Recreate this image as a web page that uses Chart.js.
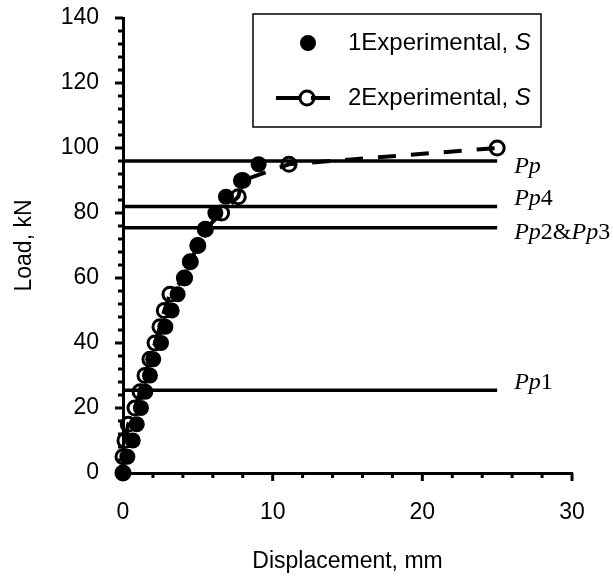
<!DOCTYPE html>
<html lang="en">
<head>
  <meta charset="UTF-8" />
  <title>Load - displacement</title>
  <script src="https://cdn.jsdelivr.net/npm/chart.js"></script>
<style>
  body {
    margin: 0;
    background-color: white;
  }
  #chart {
    display: block;
  }
</style>
</head>
<body>
  <canvas id="chart" width="613" height="576"></canvas>

  <script>
    // series 1 : filled circles
    const disp1 = [0, 0.29, 0.65, 0.92, 1.2, 1.49, 1.8, 2.02, 2.54, 2.83, 3.25, 3.65, 4.14, 4.48, 4.99, 5.48, 6.17, 6.88, 7.88, 9.06];
    const load1 = [0, 5, 10, 15, 20, 25, 30, 35, 40, 45, 50, 55, 60, 65, 70, 75, 80, 85, 90, 95];

    // series 2 : open circles, dashed line
    const disp2 = [0, 0, 0.13, 0.35, 0.8, 1.14, 1.47, 1.8, 2.14, 2.47, 2.76, 3.14, 4.1, 4.5, 5.0, 5.5, 6.59, 7.7, 8.0, 11.09, 25];
    const load2 = [0, 5, 10, 15, 20, 25, 30, 35, 40, 45, 50, 55, 60, 65, 70, 75, 80, 85, 90, 95, 100];

    // horizontal reference loads
    const refNames = ["Pp", "Pp4", "Pp2&Pp3", "Pp1"];
    const refLoads = [96, 82, 75.5, 25.5];
    const refFrom = 0;
    const refTo = 25;

    const seriesNames = ["1Experimental, ", "2Experimental, "];
    const xLabels = [0, 10, 20, 30];
    const yLabels = [0, 20, 40, 60, 80, 100, 120, 140];

    const sans = "'Liberation Sans', Arial, sans-serif";
    const serif = "'Liberation Serif', 'Times New Roman', serif";

    const toPts = (xs, ys) => xs.map((v, i) => ({ x: v, y: ys[i] }));

    const datasets = [
      {
        label: seriesNames[0],
        data: toPts(disp1, load1),
        showLine: false,
        pointRadius: 8,
        pointBackgroundColor: "#000",
        pointBorderColor: "#000",
        pointBorderWidth: 0,
        clip: false
      },
      {
        label: seriesNames[1],
        data: toPts(disp2, load2),
        showLine: true,
        borderColor: "#000",
        borderWidth: 4,
        borderDash: [18, 15],
        pointRadius: 7,
        pointBorderWidth: 3,
        pointBorderColor: "#000",
        pointBackgroundColor: "rgba(0,0,0,0)",
        clip: false
      }
    ];
    refLoads.forEach((v, i) => {
      datasets.push({
        label: refNames[i],
        data: [{ x: refFrom, y: v }, { x: refTo, y: v }],
        showLine: true,
        borderColor: "#000",
        borderWidth: 3.5,
        pointRadius: 0,
        clip: false
      });
    });

    // minor ticks, legend box and reference labels
    const decor = {
      id: "decor",
      afterDraw(chart) {
        const { ctx, chartArea: a, scales: { x, y } } = chart;
        ctx.save();
        ctx.strokeStyle = "#000";
        ctx.fillStyle = "#000";
        ctx.lineWidth = 3;

        for (let v = x.min; v <= x.max; v += 2) {
          const px = x.getPixelForValue(v);
          const len = v % 10 === 0 ? 8 : 5;
          ctx.beginPath();
          ctx.moveTo(px, a.bottom);
          ctx.lineTo(px, a.bottom + len);
          ctx.stroke();
        }
        for (let v = y.min; v <= y.max; v += 4) {
          const py = y.getPixelForValue(v);
          const len = v % 20 === 0 ? 8 : 5;
          ctx.beginPath();
          ctx.moveTo(a.left, py);
          ctx.lineTo(a.left - len, py);
          ctx.stroke();
        }

        // legend
        const lx = a.right - 319, ly = a.top - 4;
        ctx.lineWidth = 1.5;
        ctx.strokeRect(lx, ly, 288, 113);
        ctx.beginPath();
        ctx.arc(lx + 55, ly + 29, 8, 0, Math.PI * 2);
        ctx.fill();
        ctx.lineWidth = 4;
        ctx.beginPath();
        ctx.moveTo(lx + 23, ly + 84);
        ctx.lineTo(lx + 46, ly + 84);
        ctx.moveTo(lx + 58, ly + 84);
        ctx.lineTo(lx + 77, ly + 84);
        ctx.stroke();
        ctx.lineWidth = 3;
        ctx.beginPath();
        ctx.arc(lx + 54, ly + 84, 7, 0, Math.PI * 2);
        ctx.stroke();

        ctx.textBaseline = "middle";
        [ly + 29, ly + 84].forEach((ty, i) => {
          ctx.font = "24px " + sans;
          ctx.fillText(seriesNames[i], lx + 95, ty);
          const w = ctx.measureText(seriesNames[i]).width;
          ctx.font = "italic 24px " + sans;
          ctx.fillText("S", lx + 95 + w, ty);
        });

        // reference labels: letters italic, digits upright
        const shift = [6, -8, 5, -7];
        refNames.forEach((name, i) => {
          let tx = x.getPixelForValue(refTo) + 17;
          const ty = y.getPixelForValue(refLoads[i]) + shift[i];
          name.split(/([A-Za-z]+)/).filter(s => s).forEach(part => {
            ctx.font = (/[A-Za-z]/.test(part) ? "italic " : "") + "24px " + serif;
            ctx.fillText(part, tx, ty);
            tx += ctx.measureText(part).width;
          });
        });
        ctx.restore();
      }
    };

    const tickFont = { family: sans, size: 23 };

    new Chart(document.getElementById("chart"), {
      type: "scatter",
      data: { datasets: datasets },
      options: {
        responsive: false,
        animation: false,
        devicePixelRatio: 1,
        layout: { padding: { top: 18, right: 41, left: 0, bottom: 0 } },
        plugins: { legend: { display: false }, tooltip: { enabled: false } },
        scales: {
          x: {
            type: "linear",
            min: 0,
            max: 30,
            afterBuildTicks: s => { s.ticks = xLabels.map(v => ({ value: v })); },
            afterFit: s => { s.height = 103; s.paddingLeft = 0; s.paddingRight = 0; },
            ticks: { color: "#000", font: tickFont, padding: 26, maxRotation: 0, autoSkip: false },
            grid: { drawOnChartArea: false, drawTicks: false },
            border: { color: "#000", width: 3 },
            title: { display: true, text: "Displacement, mm", color: "#000", font: tickFont, padding: { top: 0, bottom: 1 } }
          },
          y: {
            type: "linear",
            min: 0,
            max: 140,
            afterBuildTicks: s => { s.ticks = yLabels.map(v => ({ value: v })); },
            afterFit: s => { s.width = 123; s.paddingTop = 0; s.paddingBottom = 0; },
            ticks: { color: "#000", font: tickFont, padding: 24, autoSkip: false },
            grid: { drawOnChartArea: false, drawTicks: false },
            border: { color: "#000", width: 3 },
            title: { display: true, text: "Load, kN", color: "#000", font: tickFont, padding: { top: 11, bottom: 0 } }
          }
        }
      },
      plugins: [decor]
    });
  </script>
</body>
</html>
